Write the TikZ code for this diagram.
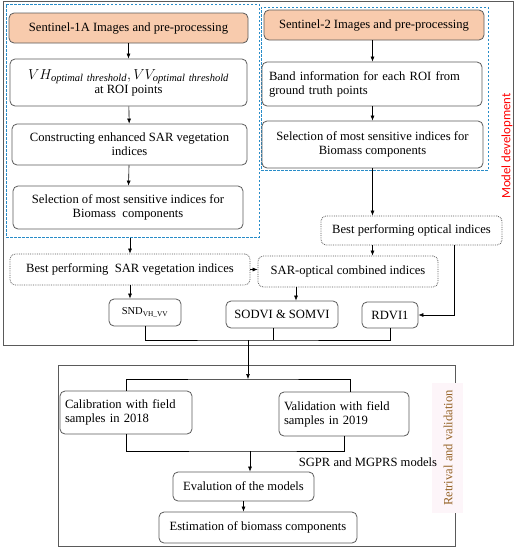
\documentclass[tikz,border=0pt]{standalone}
\usepackage{fontspec}
\setmainfont{Liberation Serif}
\newfontfamily\labelfont{Carlito}
\usetikzlibrary{arrows.meta}

\definecolor{peach}{RGB}{248,203,173}
\definecolor{dashblue}{RGB}{40,140,200}
\definecolor{boxgray}{RGB}{90,90,90}
\definecolor{brownlbl}{RGB}{150,100,40}
\definecolor{pinkbg}{RGB}{253,245,249}

\begin{document}
\begin{tikzpicture}
[
	x=1pt, y=-1pt,
	every node/.style={font=\fontsize{12.6}{14}\selectfont},
	procbox/.style={draw=boxgray,rounded corners=5pt,line width=0.8pt,align=center,inner sep=2pt},
	srcbox/.style={procbox,fill=peach},
	dotbox/.style={procbox,densely dotted},
	bluebox/.style={draw=dashblue,line width=1pt,dash pattern=on 2.5pt off 1.5pt,inner sep=0pt},
	framebox/.style={draw=boxgray,line width=0.8pt,inner sep=0pt},
	arr/.style={-{Latex[length=5pt,width=4pt]},black,line width=0.6pt},
	ln/.style={black,line width=0.6pt}
]

	\useasboundingbox (0,0) rectangle (519,550);

	% frames
	\node[framebox,minimum width=510pt,minimum height=344pt] (mdl) at (258,173) {};
	\node[framebox,minimum width=397pt,minimum height=181pt] (ret) at (256.5,455.5) {};
	\node[bluebox,minimum width=253pt,minimum height=233pt] (lbox) at (132.5,120.5) {};
	\node[bluebox,minimum width=227pt,minimum height=163pt] (rbox) at (374.5,88.5) {};
	\fill[pinkbg] (432,383) rectangle (463,513);

	% Sentinel-1A branch
	\node[srcbox,minimum width=239pt,minimum height=30pt] (s1) at (128.5,28) {Sentinel-1A Images and pre-processing};
	\node[procbox,minimum width=237pt,minimum height=47pt] (vh) at (128.5,82.5)
		{\fontsize{15}{16}\selectfont$VH_{\mathit{optimal\ threshold}}, VV_{\mathit{optimal\ threshold}}$\\ at ROI points};
	\node[procbox,minimum width=235pt,minimum height=41pt] (cons) at (129.5,144.5)
		{Constructing enhanced SAR vegetation\\ indices};
	\node[procbox,minimum width=230pt,minimum height=43pt] (sel1) at (128,207.5)
		{Selection of most sensitive indices for\\ Biomass\ \ components};
	\node[dotbox,minimum width=240pt,minimum height=31pt] (bsar) at (130,269.5)
		{Best performing\ \ SAR vegetation indices};

	% Sentinel-2 branch
	\node[srcbox,minimum width=220pt,minimum height=30pt] (s2) at (374,25) {Sentinel-2 Images and pre-processing};
	\node[procbox,minimum width=220pt,minimum height=44pt,text width=206pt,align=left] (band) at (372,84)
		{Band information for each ROI from\\ ground truth points};
	\node[procbox,minimum width=221pt,minimum height=47pt] (sel2) at (372.5,144.5)
		{Selection of most sensitive indices for\\ Biomass components};
	\node[dotbox,minimum width=181pt,minimum height=29pt] (bopt) at (411.5,230.5)
		{Best performing optical indices};
	\node[dotbox,minimum width=180pt,minimum height=31pt] (sarop) at (348,271.5)
		{SAR-optical combined indices};

	% selected indices
	\node[procbox,minimum width=72pt,minimum height=27pt] (snd) at (145,312.5)
		{\fontsize{10.5}{12}\selectfont SND\textsubscript{VH\_VV}};
	\node[procbox,minimum width=112pt,minimum height=27pt] (sodvi) at (282,314.5) {SODVI \& SOMVI};
	\node[procbox,minimum width=56pt,minimum height=26pt] (rdvi) at (390,315) {RDVI1};

	% retrieval
	\node[procbox,minimum width=132pt,minimum height=43pt,text width=122pt,align=left] (calib) at (126,412.5)
		{Calibration with field\\ samples in 2018};
	\node[procbox,minimum width=130pt,minimum height=44pt,text width=120pt,align=left] (valid) at (344,414)
		{Validation with field\\ samples in 2019};
	\node[procbox,minimum width=141pt,minimum height=29pt] (eval) at (243.5,486.5) {Evalution of the models};
	\node[procbox,minimum width=198pt,minimum height=31pt] (est) at (258,527.5) {Estimation of biomass components};
	\node (sgpr) at (368,462) {SGPR and MGPRS models};

	% side labels
	\node[rotate=90,text=red,font=\labelfont\fontsize{12.8}{14}\selectfont] (mdlbl) at (507,146) {Model development};
	\node[rotate=90,text=brownlbl] (retlbl) at (448,448) {Retrival and validation};

	% connectors
	\draw[arr] (s1) -- (vh);
	\draw[arr] (vh) -- (cons);
	\draw[arr] (cons) -- (sel1);
	\draw[arr] (lbox.south -| bsar.north) -- (bsar.north);
	\draw[arr] (s2.south -| sel2.north) -- (sel2.north |- band.north);
	\draw[arr] (band.south -| sel2.north) -- (sel2.north);
	\draw[arr] (sel2.south) -- (sel2.south |- bopt.north);
	\draw[arr] (sel2.south |- bopt.south) -- (sel2.south |- sarop.north);
	\draw[arr] (bsar.east) -- (bsar.east -| sarop.west);
	\draw[arr] (bsar.south) -- (bsar.south |- snd.north);
	\draw[arr] ([xshift=14pt]sodvi.north |- sarop.south) -- ([xshift=14pt]sodvi.north);
	\draw[arr] ([xshift=42.5pt]bopt.south) |- (rdvi.east);

	\coordinate (m1) at (248,340);
	\coordinate (m2) at (248,379);
	\coordinate (m3) at (250,451);
	\draw[ln] (snd.south) |- (m1) -| (rdvi.south);
	\draw[ln] ([xshift=-9pt]sodvi.south) -- ([xshift=-9pt]sodvi.south |- m1);
	\draw[arr] (m1) -- (m2);
	\draw[ln] (calib.north) |- (m2) -| ([xshift=6pt]valid.north);
	\draw[ln] (calib.south) |- (m3) -| (valid.south);
	\draw[arr] (m3) -- (m3 |- eval.north);
	\draw[arr] (eval.south) -- (eval.south |- est.north);

\end{tikzpicture}
\end{document}
